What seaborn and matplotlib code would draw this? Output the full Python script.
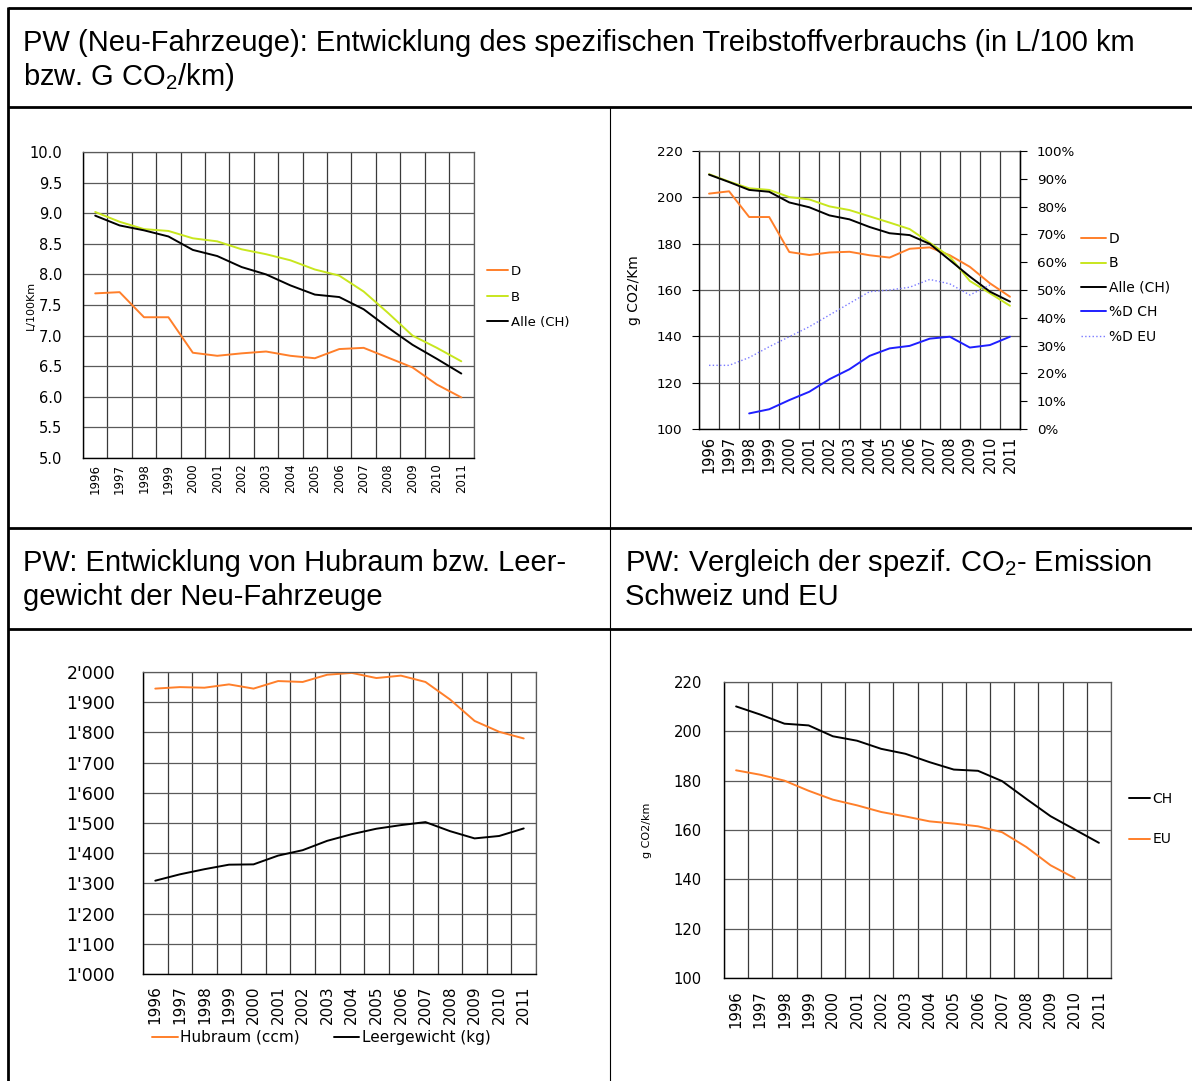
import matplotlib
matplotlib.use("Agg")
import matplotlib.pyplot as plt
import seaborn as sns

# ---- data ----
years = list(range(1996, 2012))

# L/100km
lkm_d = [7.69, 7.71, 7.30, 7.30, 6.72, 6.67, 6.71, 6.74, 6.67, 6.63, 6.78, 6.80, 6.64, 6.48, 6.20, 5.99]
lkm_b = [9.02, 8.86, 8.74, 8.71, 8.59, 8.54, 8.41, 8.33, 8.23, 8.08, 7.98, 7.72, 7.37, 7.00, 6.80, 6.58]
lkm_alle = [8.96, 8.80, 8.72, 8.62, 8.40, 8.30, 8.12, 8.00, 7.82, 7.67, 7.63, 7.43, 7.13, 6.85, 6.62, 6.38]

# g CO2/km and diesel share
co2_d = [201.6, 202.6, 191.5, 191.5, 176.4, 175.1, 176.2, 176.5, 175.0, 174.0, 177.8, 178.4, 175.0, 170.0, 162.9, 157.1]
co2_b = [210.0, 206.8, 203.9, 203.2, 200.1, 199.1, 196.1, 194.5, 191.8, 189.1, 186.3, 180.4, 174.4, 163.9, 158.6, 153.2]
co2_alle = [209.8, 206.6, 203.2, 202.4, 197.8, 195.7, 192.2, 190.5, 187.2, 184.5, 183.7, 179.9, 172.9, 165.8, 159.3, 155.0]
share_d_ch = [None, None, 0.056, 0.071, 0.104, 0.134, 0.179, 0.215, 0.263, 0.290, 0.299, 0.325, 0.332, 0.293, 0.302, 0.332]
share_d_eu = [0.229, 0.229, 0.257, 0.296, 0.332, 0.368, 0.410, 0.452, 0.494, 0.500, 0.510, 0.538, 0.522, 0.482, 0.518, None]

# Hubraum / Leergewicht
hubraum = [1945, 1950, 1948, 1959, 1945, 1970, 1967, 1991, 1997, 1980, 1988, 1967, 1909, 1838, 1802, 1780]
leergewicht = [1309, 1330, 1347, 1362, 1363, 1392, 1410, 1441, 1463, 1481, 1493, 1503, 1473, 1449, 1457, 1482]

# CH vs EU
co2_ch = [210.1, 206.8, 203.1, 202.4, 198.0, 196.2, 192.9, 190.9, 187.5, 184.5, 184.0, 179.8, 172.6, 165.6, 160.2, 154.8]
co2_eu = [184.2, 182.4, 180.0, 175.9, 172.3, 170.0, 167.3, 165.5, 163.5, 162.6, 161.5, 159.1, 153.1, 145.7, 140.5, None]

ORANGE = "#ff7f2a"
LIME = "#c8e61e"
BLUE = "#1f1fff"
LIGHTBLUE = "#7a7aff"

sns.set_style("white")
plt.rcParams["font.family"] = ["DejaVu Sans"]
plt.rcParams["mathtext.default"] = "regular"
plt.rcParams["text.color"] = "black"
plt.rcParams["xtick.color"] = "black"
plt.rcParams["ytick.color"] = "black"
plt.rcParams["axes.labelcolor"] = "black"

W, H = 1192, 1081
fig = plt.figure(figsize=(W / 100, H / 100), dpi=100)

# background axes in pixel coordinates for the table frame
bg = fig.add_axes([0, 0, 1, 1])
bg.set_xlim(0, W)
bg.set_ylim(H, 0)
bg.axis("off")

thick = 2.0
for y in [8, 107, 528, 629]:
    bg.plot([8, W], [y, y], color="black", lw=thick, solid_capstyle="butt")
bg.plot([8, 8], [7, H], color="black", lw=thick, solid_capstyle="butt")
bg.plot([609.5, 609.5], [107, H], color="black", lw=0.8)

hdr = dict(family=["Liberation Sans", "DejaVu Sans"], fontsize=21, va="center", ha="left", color="black")
bg.text(23, 43, "PW (Neu-Fahrzeuge): Entwicklung des spezifischen Treibstoffverbrauchs (in L/100 km", **hdr)
bg.text(23, 77, r"bzw. G CO$_2$/km)", **hdr)
bg.text(23, 563, "PW: Entwicklung von Hubraum bzw. Leer-", **hdr)
bg.text(23, 597, "gewicht der Neu-Fahrzeuge", **hdr)
bg.text(625, 563, r"PW: Vergleich der spezif. CO$_2$- Emission", **hdr)
bg.text(625, 597, "Schweiz und EU", **hdr)


def px_axes(left, right, top, bottom):
    return fig.add_axes([left / W, 1 - bottom / H, (right - left) / W, (bottom - top) / H])


def style_axis(ax, ylim, yticks, ylabels, ysize, xsize, ypad, xpad):
    n = len(years)
    ax.set_xlim(-0.5, n - 0.5)
    ax.set_ylim(*ylim)
    ax.set_xticks(range(n))
    ax.set_xticklabels([str(y) for y in years], rotation=90, fontsize=xsize)
    ax.set_xticks([i - 0.5 for i in range(n + 1)], minor=True)
    ax.set_yticks(yticks)
    ax.set_yticklabels(ylabels, fontsize=ysize)
    ax.tick_params(axis="x", which="major", length=0, pad=xpad)
    ax.tick_params(axis="x", which="minor", length=5, width=0.8, color="black", direction="out")
    ax.tick_params(axis="y", length=5, width=0.8, color="black", direction="out", pad=ypad)
    ax.grid(which="minor", axis="x", color="#3a3a3a", lw=0.9)
    ax.grid(which="major", axis="y", color="#5a5a5a", lw=0.9)
    ax.grid(which="major", axis="x", visible=False)
    for s in ["left", "bottom"]:
        ax.spines[s].set_color("black")
        ax.spines[s].set_linewidth(1.0)
    for s in ["top", "right"]:
        ax.spines[s].set_color("#5a5a5a")
        ax.spines[s].set_linewidth(0.9)
    ax.set_xlabel("")


def draw(ax, vals, color, label, lw=1.4, ls="-"):
    x = [i for i, v in enumerate(vals) if v is not None]
    y = [v for v in vals if v is not None]
    sns.lineplot(x=x, y=y, ax=ax, color=color, lw=lw, legend=False)
    line = ax.lines[-1]
    line.set_linestyle(ls)
    line.set_label(label)
    return line


# ---- chart 1: L/100km ----
ax1 = px_axes(83, 473.5, 152, 458)
h1 = [draw(ax1, lkm_d, ORANGE, "D"), draw(ax1, lkm_b, LIME, "B"), draw(ax1, lkm_alle, "black", "Alle (CH)")]
yt = [5.0 + 0.5 * i for i in range(11)]
style_axis(ax1, (5.0, 10.0), yt, [f"{v:.1f}" for v in yt], 10.5, 8.5, ypad=10, xpad=4)
ax1.set_ylabel("L/100Km", fontsize=8)
ax1.yaxis.set_label_coords(-0.12, 0.5)
ax1.legend(handles=h1, loc="upper left", bbox_to_anchor=(487, 265), bbox_transform=bg.transData,
           frameon=False, fontsize=9.5, handlelength=1.6, handletextpad=0.2, labelspacing=0.95,
           borderpad=0, borderaxespad=0)

# ---- chart 2: g CO2/km + diesel share ----
ax2 = px_axes(699, 1020, 151, 429)
h2 = [draw(ax2, co2_d, ORANGE, "D"), draw(ax2, co2_b, LIME, "B"), draw(ax2, co2_alle, "black", "Alle (CH)")]
yt = list(range(100, 221, 20))
style_axis(ax2, (100, 220), yt, [str(v) for v in yt], 9.7, 10.5, ypad=7, xpad=5)
ax2.set_ylabel("g CO2/Km", fontsize=10)
ax2.yaxis.set_label_coords(-0.18, 0.5)
ax2r = ax2.twinx()
h2.append(draw(ax2r, share_d_ch, BLUE, "%D CH", lw=1.4))
h2.append(draw(ax2r, share_d_eu, LIGHTBLUE, "%D EU", lw=1.0, ls=":"))
ax2r.set_ylim(0, 1)
pt = [i / 10 for i in range(11)]
ax2r.set_yticks(pt)
ax2r.set_yticklabels([f"{int(round(p * 100))}%" for p in pt], fontsize=9.7)
ax2r.tick_params(axis="y", length=5, width=0.8, color="black", direction="out", pad=7)
ax2r.spines["right"].set_color("black")
ax2r.spines["right"].set_linewidth(1.0)
for s in ["top", "left", "bottom"]:
    ax2r.spines[s].set_visible(False)
ax2r.set_ylabel("")
ax2r.grid(False)
ax2r.legend(handles=h2, loc="upper left", bbox_to_anchor=(1081, 232), bbox_transform=bg.transData,
            frameon=False, fontsize=10, handlelength=1.8, handletextpad=0.2, labelspacing=0.75,
            borderpad=0, borderaxespad=0)

# ---- chart 3: Hubraum / Leergewicht ----
ax3 = px_axes(143, 536, 672, 974)
h3 = [draw(ax3, hubraum, ORANGE, "Hubraum (ccm)"), draw(ax3, leergewicht, "black", "Leergewicht (kg)")]
yt = list(range(1000, 2001, 100))
style_axis(ax3, (1000, 2000), yt, [f"{v:,}".replace(",", "'") for v in yt], 12.5, 11, ypad=15, xpad=8)
ax3.set_ylabel("")
ax3.legend(handles=h3, loc="upper left", bbox_to_anchor=(152, 1030), bbox_transform=bg.transData,
           ncol=2, frameon=False, fontsize=11, handlelength=1.7, handletextpad=0.15, columnspacing=2.2,
           borderpad=0, borderaxespad=0)

# ---- chart 4: CH vs EU ----
ax4 = px_axes(724, 1111, 682, 978)
h4 = [draw(ax4, co2_ch, "black", "CH"), draw(ax4, co2_eu, ORANGE, "EU")]
yt = list(range(100, 221, 20))
style_axis(ax4, (100, 220), yt, [str(v) for v in yt], 10.6, 10.7, ypad=11, xpad=9)
ax4.set_ylabel("g CO2/km", fontsize=8)
ax4.yaxis.set_label_coords(-0.185, 0.5)
ax4.legend(handles=h4, loc="upper left", bbox_to_anchor=(1129, 792), bbox_transform=bg.transData,
           frameon=False, fontsize=10, handlelength=1.5, handletextpad=0.2, labelspacing=1.9,
           borderpad=0, borderaxespad=0)

fig.savefig("out.png", dpi=100)
